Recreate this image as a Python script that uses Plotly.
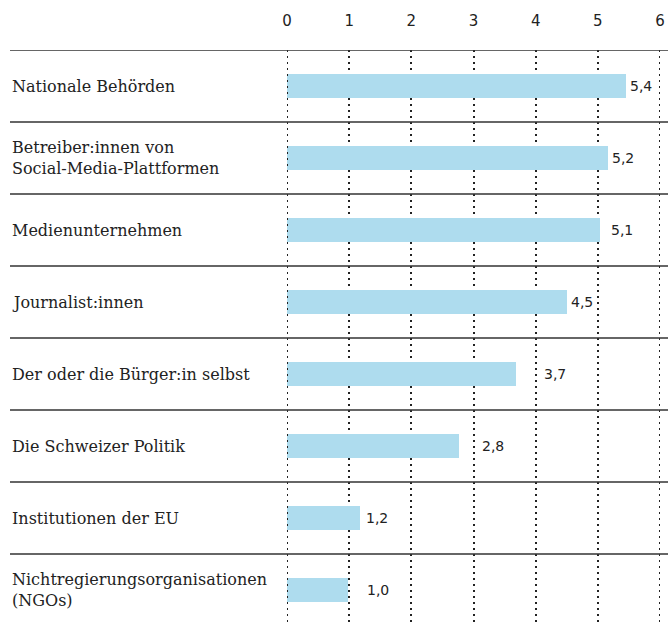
import plotly.graph_objects as go

# rows from top to bottom
categories = [
    "Nationale Behörden",
    "Betreiber:innen von<br>Social-Media-Plattformen",
    "Medienunternehmen",
    "Journalist:innen",
    "Der oder die Bürger:in selbst",
    "Die Schweizer Politik",
    "Institutionen der EU",
    "Nichtregierungsorganisationen<br>(NGOs)",
]
values = [5.45, 5.16, 5.04, 4.51, 3.68, 2.77, 1.18, 0.985]
value_labels = ["5,4", "5,2", "5,1", "4,5", "3,7", "2,8", "1,2", "1,0"]
tick_vals = [0, 1, 2, 3, 4, 5, 6]

# pixel gap between bar end and its label (as in the original)
label_gaps = [2, 2, 9, 2, 26, 21, 4, 17]

W, H = 668, 622
ML, MR, MT, MB = 287, 8, 50, 0
LEFT_TXT = 10
ROW_PX = 72
plot_w = W - ML - MR
plot_h = H - MT - MB
rows_visible = plot_h / ROW_PX

bar_color = "#aedcee"
serif = "DejaVu Serif"
sans = "DejaVu Sans"
dot_style = dict(color="#222", width=2, dash="2px,4px")

pos = list(range(len(categories)))

fig = go.Figure()
fig.add_trace(go.Bar(
    x=values,
    y=pos,
    orientation="h",
    width=0.32,
    marker_color=bar_color,
    marker_line_width=0,
    hoverinfo="skip",
))

annotations = []
for i, (cat, v, lab, gap) in enumerate(zip(categories, values, value_labels, label_gaps)):
    annotations.append(dict(
        x=-(ML - LEFT_TXT) / plot_w, xref="paper", y=i, yref="y",
        text=cat, showarrow=False, xanchor="left", yanchor="middle",
        align="left", font=dict(family=serif, size=16, color="#222"),
    ))
    annotations.append(dict(
        x=v, xref="x", y=i, yref="y",
        text=lab, showarrow=False, xanchor="left", yanchor="middle",
        xshift=gap, font=dict(family=sans, size=14, color="#222"),
    ))

shapes = []
# dotted lines at the two range ends (plotly skips grid there)
for xv in (tick_vals[0], tick_vals[-1]):
    shapes.append(dict(
        type="line", xref="x", yref="paper", x0=xv, x1=xv, y0=0, y1=1,
        line=dot_style, layer="above",
    ))
for i in range(len(categories) + 1):
    shapes.append(dict(
        type="line", xref="paper", yref="y",
        x0=-(ML - LEFT_TXT) / plot_w, x1=1 + MR / plot_w,
        y0=i - 0.5, y1=i - 0.5,
        line=dict(color="#333", width=1.5),
        layer="above",
    ))

fig.update_layout(
    width=W, height=H,
    margin=dict(l=ML, r=MR, t=MT, b=MB, autoexpand=False),
    plot_bgcolor="white", paper_bgcolor="white",
    showlegend=False,
    bargap=0,
    annotations=annotations,
    shapes=shapes,
    xaxis=dict(
        range=[0, 6], side="top",
        tickvals=tick_vals, ticktext=[str(t) for t in tick_vals],
        tickfont=dict(family=sans, size=15, color="#222"),
        ticklabelstandoff=20,
        showgrid=True, gridcolor=dot_style["color"], gridwidth=dot_style["width"],
        griddash=dot_style["dash"],
        zeroline=False, showline=False, ticks="",
        automargin=False, fixedrange=True,
    ),
    yaxis=dict(
        range=[-0.5 + rows_visible, -0.5],
        showticklabels=False, showgrid=False, zeroline=False,
        showline=False, ticks="", automargin=False, fixedrange=True,
    ),
)

# drop the default page margin so the figure sits at the window's corner
fig.write_html(
    "out.html",
    config={"displayModeBar": False},
    post_script="document.body.style.margin='0';document.body.style.overflow='hidden';",
)
